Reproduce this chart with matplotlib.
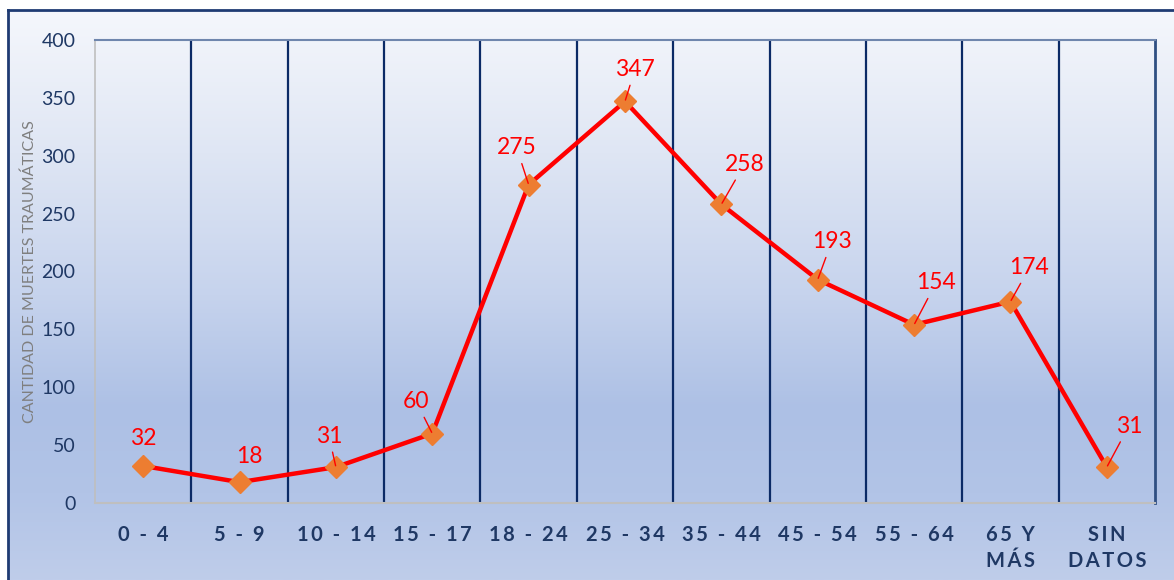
import numpy as np
import matplotlib
matplotlib.use('Agg')
import matplotlib.pyplot as plt
from matplotlib.colors import LinearSegmentedColormap
from matplotlib.lines import Line2D

plt.rcParams['font.family'] = ['Lato', 'DejaVu Sans']

grupos = ['0 - 4', '5 - 9', '10 - 14', '15 - 17', '18 - 24', '25 - 34',
          '35 - 44', '45 - 54', '55 - 64', '65 Y\nMÁS', 'SIN\nDATOS']
muertes = [32, 18, 31, 60, 275, 347, 258, 193, 154, 174, 31]
y_ticks = [0, 50, 100, 150, 200, 250, 300, 350, 400]

# label offsets in pixels from each marker, and whether a leader line is drawn
offsets = [(0, 27), (10, 26), (-7, 31), (-16, 32), (-12, 37), (10, 32),
           (23, 40), (14, 38), (22, 42), (19, 34), (22, 41)]
leaders = [False, False, True, True, True, True, True, True, True, True, True]

navy = '#1f3864'


def espaciar(txt):
    # letter spacing like the original (Excel)
    lines = txt.split('\n')
    return '\n'.join('\u2009'.join(list(l)) for l in lines)


fig = plt.figure(figsize=(11.74, 5.8), dpi=100)
fig.patch.set_facecolor('white')

# background gradient inside the outer frame
bg = fig.add_axes([8 / 1174, 0, 1, 1 - 10 / 580], zorder=-10)
bg.set_axis_off()
cmap = LinearSegmentedColormap.from_list('bg', [
    (0.0, '#f5f7fc'), (0.25, '#dfe6f4'), (0.5, '#c6d3ed'),
    (0.7, '#adc0e5'), (0.85, '#b2c4e7'), (1.0, '#bfcdea')])
grad = np.linspace(0, 1, 256).reshape(-1, 1)
bg.imshow(grad, aspect='auto', cmap=cmap, extent=[0, 1, 0, 1], origin='upper')
bg.set_xlim(0, 1)
bg.set_ylim(0, 1)

# outer frame: left and top edges
fig.add_artist(Line2D([8 / 1174, 8 / 1174], [0, 1 - 10 / 580], color='#1f3b73', lw=2))
fig.add_artist(Line2D([8 / 1174, 1], [1 - 10 / 580, 1 - 10 / 580], color='#1f3b73', lw=2))

ax = fig.add_axes([95 / 1174, 1 - 503 / 580, (1155 - 95) / 1174, (503 - 40) / 580])
ax.patch.set_alpha(0)

n = len(grupos)
x = np.arange(n)
ax.set_xlim(-0.5, n - 0.5)
ax.set_ylim(0, 400)

# vertical grid at category boundaries
for b in np.arange(0.5, n - 0.5, 1):
    ax.axvline(b, color='#0b2a66', lw=1.6, zorder=1)

ax.plot(x, muertes, color='#ff0000', lw=3.2, zorder=3, solid_joinstyle='round')
ax.plot(x, muertes, linestyle='none', marker='D', markersize=11,
        color='#ed7d31', zorder=4)

for xi, v, (dx, dy), ld in zip(x, muertes, offsets, leaders):
    props = None
    if ld:
        props = dict(arrowstyle='-', color='#ff0000', lw=1, shrinkA=2, shrinkB=1)
    ax.annotate(str(v), (xi, v), xytext=(dx, dy), textcoords='offset pixels',
                ha='center', va='center', fontsize=16.5, color='#ff0000',
                arrowprops=props, zorder=5)

ax.set_xticks(x)
ax.set_xticklabels([espaciar(g) for g in grupos], fontsize=14.5, fontweight='bold',
                   color=navy, linespacing=1.35, va='top')
ax.set_yticks(y_ticks)
ax.set_yticklabels([str(t) for t in y_ticks], fontsize=14, color=navy)
ax.tick_params(axis='x', length=0, pad=16)
ax.tick_params(axis='y', length=0, pad=14)

ax.set_ylabel('CANTIDAD DE MUERTES TRAUMÁTICAS', fontsize=11.5, color='#7f7f7f')
ax.yaxis.set_label_coords(-0.055, 0.5)

ax.spines['left'].set_color('#bfbfbf')
ax.spines['left'].set_linewidth(1.2)
ax.spines['bottom'].set_color('#bfbfbf')
ax.spines['bottom'].set_linewidth(1.5)
ax.spines['top'].set_color('#6f86ad')
ax.spines['top'].set_linewidth(1.5)
ax.spines['right'].set_color('#2f4f82')
ax.spines['right'].set_linewidth(2)

fig.savefig('out.png', dpi=100)
